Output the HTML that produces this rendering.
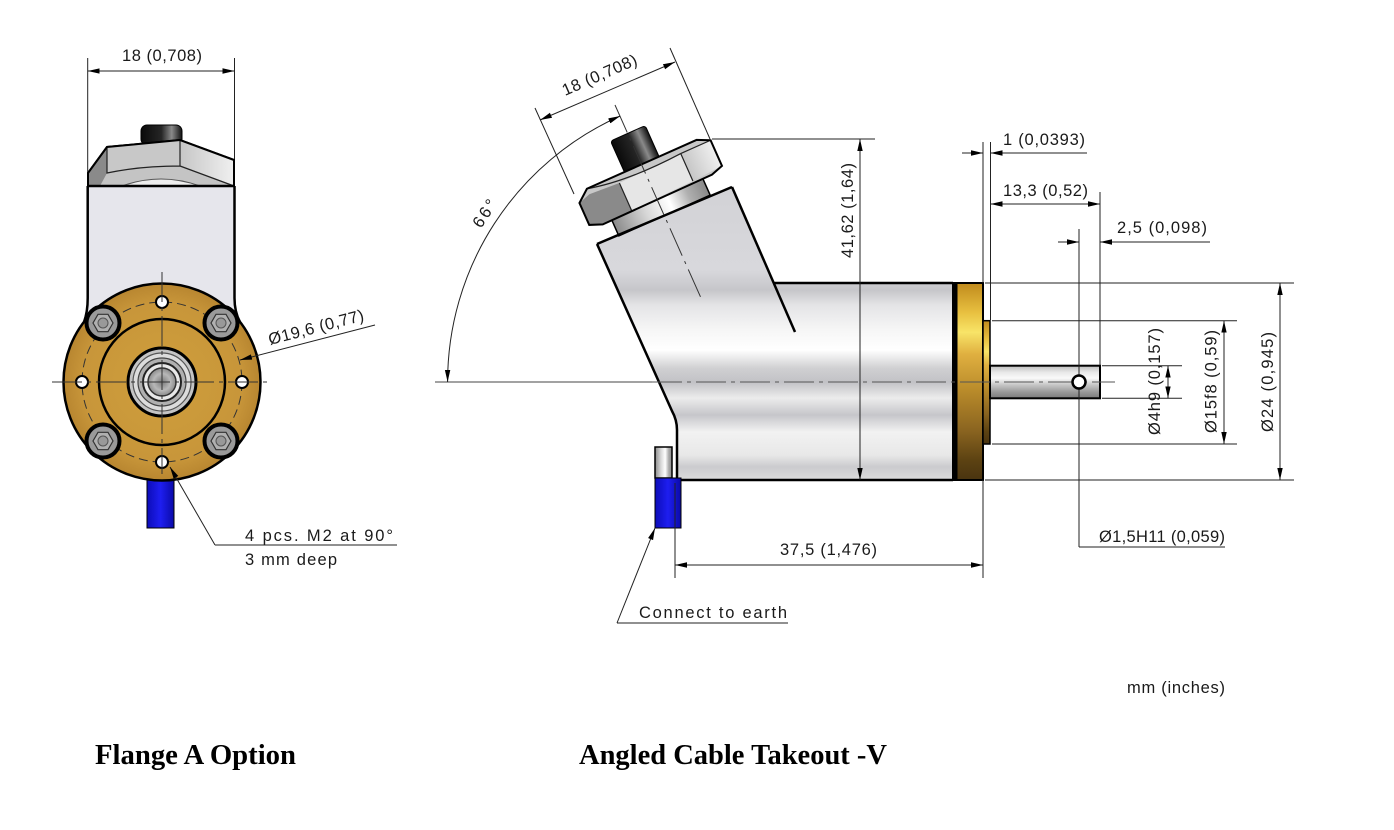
<!DOCTYPE html>
<html><head><meta charset="utf-8"><style>
html,body{margin:0;padding:0;background:#fff;}
svg{display:block;}
.t{font-family:"Liberation Sans","DejaVu Sans",sans-serif;font-size:16.5px;fill:#1a1a1a;}
.cap{font-family:"Liberation Serif","DejaVu Serif",serif;font-size:28px;font-weight:bold;fill:#000;}
.th{stroke:#222;stroke-width:1;fill:none;}
.ol{stroke:#000;stroke-width:2.5;fill:none;stroke-linejoin:round;}
</style></head><body>
<svg width="1394" height="830" viewBox="0 0 1394 830" xmlns="http://www.w3.org/2000/svg">
<defs>
 <marker id="a" viewBox="0 0 12 7" refX="12" refY="3.5" markerWidth="12" markerHeight="7" markerUnits="userSpaceOnUse" orient="auto-start-reverse"><path d="M0,0.8 L12,3.5 L0,6.2z" fill="#000"/></marker>
 <linearGradient id="body" gradientUnits="userSpaceOnUse" x1="0" y1="187" x2="0" y2="480">
  <stop offset="0" stop-color="#d2d2d6"/><stop offset="0.283" stop-color="#d8d8dc"/>
  <stop offset="0.352" stop-color="#c6c6ca"/><stop offset="0.403" stop-color="#e4e4e6"/>
  <stop offset="0.488" stop-color="#f6f6f6"/><stop offset="0.556" stop-color="#ffffff"/>
  <stop offset="0.618" stop-color="#d0d0d2"/><stop offset="0.666" stop-color="#c2c2c6"/>
  <stop offset="0.72" stop-color="#ececec"/><stop offset="0.778" stop-color="#c6c6ca"/>
  <stop offset="0.836" stop-color="#f2f2f2"/><stop offset="0.915" stop-color="#e8e8e8"/>
  <stop offset="0.955" stop-color="#cbcbce"/><stop offset="1" stop-color="#dcdcdc"/>
 </linearGradient>
 <linearGradient id="gold" x1="0" y1="0" x2="0" y2="1">
  <stop offset="0" stop-color="#c08a1c"/><stop offset="0.15" stop-color="#e8c040"/>
  <stop offset="0.25" stop-color="#f8e468"/><stop offset="0.36" stop-color="#e0b040"/>
  <stop offset="0.55" stop-color="#b88a2a"/><stop offset="0.75" stop-color="#8a6420"/>
  <stop offset="0.9" stop-color="#5c4212"/><stop offset="1" stop-color="#4a3410"/>
 </linearGradient>
 <linearGradient id="shaft" x1="0" y1="0" x2="0" y2="1">
  <stop offset="0" stop-color="#bdbdbd"/><stop offset="0.2" stop-color="#e8e8e8"/>
  <stop offset="0.38" stop-color="#fafafa"/><stop offset="0.58" stop-color="#c8c8c8"/>
  <stop offset="0.8" stop-color="#9a9a9a"/><stop offset="1" stop-color="#7a7a7a"/>
 </linearGradient>
 <linearGradient id="metalH" x1="0" y1="0" x2="1" y2="0">
  <stop offset="0" stop-color="#8a8a8a"/><stop offset="0.35" stop-color="#d8d8d8"/>
  <stop offset="0.6" stop-color="#ffffff"/><stop offset="0.8" stop-color="#b0b0b0"/><stop offset="1" stop-color="#888"/>
 </linearGradient>
 <linearGradient id="capg" x1="0" y1="0" x2="1" y2="0">
  <stop offset="0" stop-color="#0a0a0a"/><stop offset="0.5" stop-color="#262626"/>
  <stop offset="0.75" stop-color="#8a8a8a"/><stop offset="1" stop-color="#111"/>
 </linearGradient>
 <linearGradient id="blue" x1="0" y1="0" x2="1" y2="0">
  <stop offset="0" stop-color="#0c0cb8"/><stop offset="0.5" stop-color="#1e1ef0"/><stop offset="1" stop-color="#0a0aa8"/>
 </linearGradient>
 <linearGradient id="rface" x1="0" y1="0" x2="1" y2="0">
  <stop offset="0" stop-color="#c6c6c6"/><stop offset="1" stop-color="#f0f0f0"/>
 </linearGradient>
 <radialGradient id="flg" cx="0.5" cy="0.5" r="0.5">
  <stop offset="0" stop-color="#cf9f3c"/><stop offset="0.8" stop-color="#c8963a"/><stop offset="1" stop-color="#b88630"/>
 </radialGradient>
 <radialGradient id="bore" cx="0.5" cy="0.5" r="0.5">
  <stop offset="0" stop-color="#7a7a7a"/><stop offset="0.6" stop-color="#b8b8b8"/><stop offset="1" stop-color="#8a8a8a"/>
 </radialGradient>
</defs>

<!-- ================= LEFT VIEW ================= -->
<line class="th" x1="87.7" y1="58" x2="87.7" y2="186"/>
<line class="th" x1="234.5" y1="58" x2="234.5" y2="160"/>
<line class="th" x1="87.7" y1="71" x2="234.5" y2="71" marker-start="url(#a)" marker-end="url(#a)"/>
<text class="t" x="122" y="61" textLength="80" lengthAdjust="spacing">18 (0,708)</text>

<rect x="141" y="125" width="41" height="20" rx="6" fill="url(#capg)" stroke="#000" stroke-width="1"/>
<polygon points="88,186 88,173 107,147 180,140 234,160 234,186" fill="#c4c4c4" stroke="#000" stroke-width="2"/>
<polygon points="88,186 88,173 107,147 107,173 100,186" fill="#8a8a8a"/>
<path d="M107,147 L180,140 L180,166 Q140,166 107,173 Z" fill="#c8c8c8"/>
<polygon points="180,140 234,160 234,186 180,166" fill="url(#rface)"/>
<path d="M122,186 Q161,172 200,186 Z" fill="#eeeeee" stroke="#555" stroke-width="1"/>
<path d="M107,147 L107,173 Q140,166 180,166 L180,140 M180,166 L234,186" stroke="#222" stroke-width="1.2" fill="none"/>
<polygon points="88,186 88,173 107,147 180,140 234,160 234,186" fill="none" stroke="#000" stroke-width="2"/>

<path d="M87.7,186 L234.5,186 L234.5,298 Q234.5,312 240,322 L84,322 Q87.7,312 87.7,298 Z" fill="#e6e6ec"/>
<path d="M87.7,186 L87.7,298 Q87.7,312 84,322 M234.5,186 L234.5,298 Q234.5,312 240,322 M87.7,186 L234.5,186" class="ol"/>

<rect x="147" y="478" width="27" height="50" fill="url(#blue)" stroke="#000" stroke-width="1"/>

<circle cx="162" cy="382" r="98.5" fill="url(#flg)" stroke="#000" stroke-width="2.5"/>
<circle cx="162" cy="382" r="80" fill="none" stroke="#333" stroke-width="1" stroke-dasharray="9,5"/>
<circle cx="162" cy="382" r="63" fill="none" stroke="#000" stroke-width="2.5"/>
<circle cx="162" cy="382" r="34" fill="#c4c4c4" stroke="#000" stroke-width="3"/>
<circle cx="162" cy="382" r="29" fill="#dcdcdc" stroke="#555" stroke-width="1.2"/>
<circle cx="162" cy="382" r="24" fill="#b0b0b0" stroke="#444" stroke-width="1.2"/>
<circle cx="162" cy="382" r="19" fill="#e8e8e8" stroke="#222" stroke-width="2"/>
<circle cx="162" cy="382" r="14" fill="url(#bore)" stroke="#333" stroke-width="1.5"/>
<g id="sc">
 <circle cx="103" cy="323" r="16.5" fill="#9a9a9a" stroke="#000" stroke-width="4"/>
 <polygon points="113,323 108,331.7 98,331.7 93,323 98,314.3 108,314.3" fill="#b0b0b0" stroke="#333" stroke-width="1.2"/>
 <circle cx="103" cy="323" r="5" fill="#999" stroke="#555" stroke-width="1"/>
</g>
<use href="#sc" x="118" y="0"/>
<use href="#sc" x="0" y="118"/>
<use href="#sc" x="118" y="118"/>
<circle cx="162" cy="302" r="6" fill="#fff" stroke="#000" stroke-width="2"/>
<circle cx="242" cy="382" r="6" fill="#fff" stroke="#000" stroke-width="2"/>
<circle cx="162" cy="462" r="6" fill="#fff" stroke="#000" stroke-width="2"/>
<circle cx="82" cy="382" r="6" fill="#fff" stroke="#000" stroke-width="2"/>
<line x1="52" y1="382" x2="270" y2="382" stroke="#333" stroke-width="1" stroke-dasharray="30,5,4,5"/>
<line x1="162" y1="272" x2="162" y2="474" stroke="#333" stroke-width="1" stroke-dasharray="30,5,4,5"/>

<line class="th" x1="375" y1="325" x2="240" y2="360" marker-end="url(#a)"/>
<text class="t" transform="translate(270,345) rotate(-14.6)" x="0" y="0" textLength="98" lengthAdjust="spacing">Ø19,6 (0,77)</text>

<line class="th" x1="215" y1="545" x2="170" y2="467" marker-end="url(#a)"/>
<line class="th" x1="215" y1="545" x2="397" y2="545"/>
<text class="t" x="245" y="541" textLength="148" lengthAdjust="spacing">4 pcs. M2 at 90°</text>
<text class="t" x="245" y="565" textLength="92" lengthAdjust="spacing">3 mm deep</text>

<!-- ================= RIGHT VIEW ================= -->
<path d="M597,244 L732,187 L774,283 L953,283 L953,480 L677,480 L677,430 Q677,420 672,411 Z" fill="url(#body)"/>
<g transform="translate(664.5,215.5) rotate(-24)">
 <rect x="-50" y="-21" width="100" height="21" fill="url(#metalH)" stroke="#000" stroke-width="1.5"/>
 <rect x="-19" y="-90" width="38" height="38" rx="3" fill="url(#capg)" stroke="#000" stroke-width="1"/>
 <polygon points="-72.6,-46 -60,-56 60,-56 72.7,-50 72.7,-22 60,-18 -60,-17 -72.6,-22" fill="#c8c8c8"/>
 <polygon points="-72.6,-46 -60,-50 -28,-48 -28,-18 -60,-17 -72.6,-22" fill="#8a8a8a"/>
 <polygon points="-28,-48 40,-50 40,-20 -28,-18" fill="#e6e6e6"/>
 <polygon points="40,-50 72.7,-50 72.7,-22 40,-20" fill="url(#rface)"/>
 <path d="M-60,-56 Q-20,-46 40,-50 L72.7,-50 M-28,-48 L-28,-18 M40,-50 L40,-20" stroke="#222" stroke-width="1.2" fill="none"/>
 <polygon points="-72.6,-46 -60,-56 60,-56 72.7,-50 72.7,-22 60,-18 -60,-17 -72.6,-22" fill="none" stroke="#000" stroke-width="2"/>
</g>
<path d="M597,244 L672,411 Q677,420 677,430 L677,480 L953,480" class="ol"/>
<path d="M597,244 L732,187" class="ol"/>
<path d="M732,187 L795,332" class="ol"/>
<path d="M774,283 L953,283" class="ol"/>

<rect x="953" y="283" width="30" height="197" fill="url(#gold)" stroke="#000" stroke-width="2"/>
<line x1="955.5" y1="283" x2="955.5" y2="480" stroke="#000" stroke-width="4"/>
<rect x="983" y="320.7" width="7" height="123.3" fill="url(#gold)" stroke="#000" stroke-width="1.5"/>
<rect x="990" y="365.7" width="110" height="32.6" fill="url(#shaft)" stroke="#000" stroke-width="2"/>

<rect x="655" y="447" width="17" height="31" fill="url(#metalH)" stroke="#000" stroke-width="1.5"/>
<rect x="655" y="478" width="26" height="50" fill="url(#blue)" stroke="#000" stroke-width="1"/>

<line x1="435" y1="382" x2="652" y2="382" stroke="#444" stroke-width="1"/>
<line x1="652" y1="382" x2="1115" y2="382" stroke="#555" stroke-width="1" stroke-dasharray="30,5,4,5"/>
<line x1="615" y1="105" x2="701" y2="298" stroke="#333" stroke-width="1" stroke-dasharray="30,6,3,6"/>

<line class="th" x1="535" y1="108" x2="574" y2="194"/>
<line class="th" x1="670" y1="48" x2="710" y2="139"/>
<line class="th" x1="540" y1="120" x2="675" y2="62" marker-start="url(#a)" marker-end="url(#a)"/>
<text class="t" transform="translate(565,96) rotate(-23.5)" x="0" y="0" textLength="80" lengthAdjust="spacing">18 (0,708)</text>

<path d="M620.2,116 A291,291 0 0,0 447.6,382" class="th" marker-start="url(#a)" marker-end="url(#a)"/>
<text class="t" transform="translate(481,229) rotate(-57)" x="0" y="0" textLength="30" lengthAdjust="spacing">66°</text>

<line class="th" x1="712" y1="139" x2="875" y2="139"/>
<line class="th" x1="860" y1="139" x2="860" y2="480" marker-start="url(#a)" marker-end="url(#a)"/>
<text class="t" transform="translate(853,258) rotate(-90)" x="0" y="0" textLength="95" lengthAdjust="spacing">41,62 (1,64)</text>

<line class="th" x1="983" y1="142" x2="983" y2="283"/>
<line class="th" x1="983" y1="480" x2="983" y2="578"/>
<line class="th" x1="990.5" y1="142" x2="990.5" y2="320"/>
<line class="th" x1="1100" y1="192" x2="1100" y2="365"/>
<line class="th" x1="1079" y1="229" x2="1079" y2="547"/>
<line class="th" x1="985" y1="283" x2="1294" y2="283"/>
<line class="th" x1="985" y1="480" x2="1294" y2="480"/>
<line class="th" x1="992" y1="320.7" x2="1237" y2="320.7"/>
<line class="th" x1="992" y1="444" x2="1237" y2="444"/>
<line class="th" x1="1102" y1="365.7" x2="1182" y2="365.7"/>
<line class="th" x1="1102" y1="398.3" x2="1182" y2="398.3"/>

<circle cx="1079" cy="382" r="6.5" fill="#fff" stroke="#000" stroke-width="2.5"/>

<line class="th" x1="962" y1="153" x2="983" y2="153" marker-end="url(#a)"/>
<line class="th" x1="1087" y1="153" x2="990.5" y2="153" marker-end="url(#a)"/>
<text class="t" x="1003" y="145" textLength="82" lengthAdjust="spacing">1 (0,0393)</text>
<line class="th" x1="990.5" y1="204" x2="1100" y2="204" marker-start="url(#a)" marker-end="url(#a)"/>
<text class="t" x="1003" y="196" textLength="85" lengthAdjust="spacing">13,3 (0,52)</text>
<line class="th" x1="1058" y1="242" x2="1079" y2="242" marker-end="url(#a)"/>
<line class="th" x1="1210" y1="242" x2="1100" y2="242" marker-end="url(#a)"/>
<text class="t" x="1117" y="233" textLength="90" lengthAdjust="spacing">2,5 (0,098)</text>

<line class="th" x1="1168" y1="365.7" x2="1168" y2="398.3" marker-start="url(#a)" marker-end="url(#a)"/>
<text class="t" transform="translate(1160,435) rotate(-90)" x="0" y="0" textLength="107" lengthAdjust="spacing">Ø4h9 (0,157)</text>
<line class="th" x1="1224" y1="320.7" x2="1224" y2="444" marker-start="url(#a)" marker-end="url(#a)"/>
<text class="t" transform="translate(1216.5,433) rotate(-90)" x="0" y="0" textLength="103" lengthAdjust="spacing">Ø15f8 (0,59)</text>
<line class="th" x1="1280" y1="283" x2="1280" y2="480" marker-start="url(#a)" marker-end="url(#a)"/>
<text class="t" transform="translate(1273,432) rotate(-90)" x="0" y="0" textLength="100" lengthAdjust="spacing">Ø24 (0,945)</text>

<line class="th" x1="1079" y1="547" x2="1225" y2="547"/>
<text class="t" x="1099" y="542" textLength="126" lengthAdjust="spacing">Ø1,5H11 (0,059)</text>

<line class="th" x1="675" y1="483" x2="675" y2="578"/>
<line class="th" x1="675" y1="565" x2="983" y2="565" marker-start="url(#a)" marker-end="url(#a)"/>
<text class="t" x="780" y="555" textLength="97" lengthAdjust="spacing">37,5 (1,476)</text>

<line class="th" x1="617" y1="623" x2="655" y2="528" marker-end="url(#a)"/>
<line class="th" x1="617" y1="623" x2="788" y2="623"/>
<text class="t" x="639" y="618" textLength="148" lengthAdjust="spacing">Connect to earth</text>

<text class="t" x="1127" y="693" textLength="98" lengthAdjust="spacing">mm (inches)</text>

<text class="cap" x="95" y="764" textLength="201" lengthAdjust="spacingAndGlyphs">Flange A Option</text>
<text class="cap" x="579" y="764" textLength="308" lengthAdjust="spacingAndGlyphs">Angled Cable Takeout -V</text>
</svg>
</body></html>
